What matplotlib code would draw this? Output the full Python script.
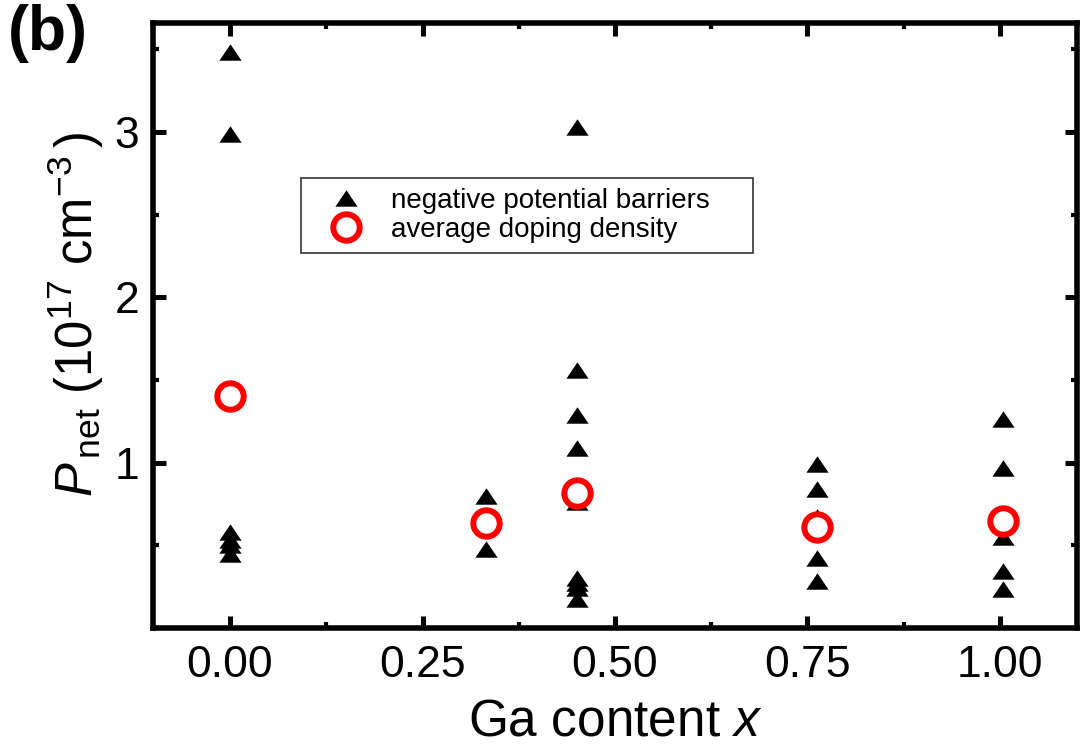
import matplotlib
matplotlib.use("Agg")
import matplotlib.pyplot as plt
from matplotlib.ticker import MultipleLocator, FixedLocator

plt.rcParams['font.family'] = ['Liberation Sans', 'DejaVu Sans']
plt.rcParams['mathtext.fontset'] = 'custom'
plt.rcParams['mathtext.rm'] = 'Liberation Sans'
plt.rcParams['mathtext.it'] = 'Liberation Sans:italic'
plt.rcParams['mathtext.bf'] = 'Liberation Sans:bold'

# Data: negative potential barriers (triangles)
barrier_x = [0.00, 0.00, 0.00, 0.00, 0.00, 0.00,
             0.333, 0.333,
             0.45, 0.45, 0.45, 0.45, 0.45, 0.45, 0.45, 0.45, 0.45,
             0.762, 0.762, 0.762, 0.762, 0.762,
             1.004, 1.004, 1.004, 1.004, 1.004]
barrier_y = [3.48, 2.99, 0.58, 0.53, 0.50, 0.45,
             0.80, 0.48,
             3.03, 1.56, 1.29, 1.09, 0.76, 0.30, 0.27, 0.24, 0.175,
             0.99, 0.84, 0.67, 0.425, 0.285,
             1.265, 0.97, 0.55, 0.345, 0.235]

# Data: average doping density (circles)
avg_x = [0.00, 0.333, 0.45, 0.762, 1.004]
avg_y = [1.40, 0.634, 0.815, 0.613, 0.644]

label_barrier = 'negative potential barriers'
label_avg = 'average doping density'
xticks = [0.00, 0.25, 0.50, 0.75, 1.00]
xtick_labels = ['0.00', '0.25', '0.50', '0.75', '1.00']
yticks = [1, 2, 3]
ytick_labels = ['1', '2', '3']

W, H = 1081, 749
fig = plt.figure(figsize=(W / 100, H / 100), dpi=100)
ax = fig.add_axes([153 / W, 1 - 628 / H, (1077 - 153) / W, (628 - 22.7) / H])

tri = [(-1, -0.74), (1, -0.74), (0, 0.74)]
ax.plot(barrier_x, barrier_y, linestyle='none', marker=tri, markersize=16,
        color='black', markeredgewidth=0, label=label_barrier, zorder=3)
ax.plot(avg_x, avg_y, linestyle='none', marker='o', markersize=19,
        markerfacecolor='white', markeredgecolor='#ff0000', markeredgewidth=4.3,
        label=label_avg, zorder=4)

ax.set_xlim(-0.1, 1.1)
ax.set_ylim(0, 3.66)

ax.xaxis.set_major_locator(FixedLocator(xticks))
ax.set_xticklabels(xtick_labels)
ax.xaxis.set_minor_locator(MultipleLocator(0.125))
ax.yaxis.set_major_locator(FixedLocator(yticks))
ax.set_yticklabels(ytick_labels)
ax.yaxis.set_minor_locator(MultipleLocator(0.5))

for s in ax.spines.values():
    s.set_linewidth(4)
ax.tick_params(which='major', direction='in', length=9, width=3.6,
               top=True, right=True, labelsize=32, pad=10)
ax.tick_params(which='minor', direction='in', length=4, width=3,
               top=True, right=True)
ax.tick_params(axis='x', which='major', pad=12)

leg = ax.legend(loc='upper left',
                bbox_to_anchor=(0.16, 0.7434 - 0.2, 0.4895, 0.2),
                mode='expand', borderaxespad=0, fontsize=20,
                handlelength=2.55, handletextpad=0.36, labelspacing=0.12,
                borderpad=0.35, fancybox=False, frameon=True, numpoints=1)
leg.get_frame().set_edgecolor('black')
leg.get_frame().set_linewidth(1.2)

fig.text(76 / W, 1 - 314 / H,
         r'$P_{\,\rm net}\ (10^{17}\ {\rm cm}^{-3}\,)$',
         rotation=90, ha='center', va='center', fontsize=36.5)
fig.text(615 / W, 1 - 736 / H, r'Ga content $x$', ha='center',
         va='baseline', fontsize=37)
fig.text(8 / W, 1 - 50 / H, '(b)', ha='left', va='baseline',
         fontsize=45, fontweight='bold')

fig.savefig('out.png', dpi=100)
